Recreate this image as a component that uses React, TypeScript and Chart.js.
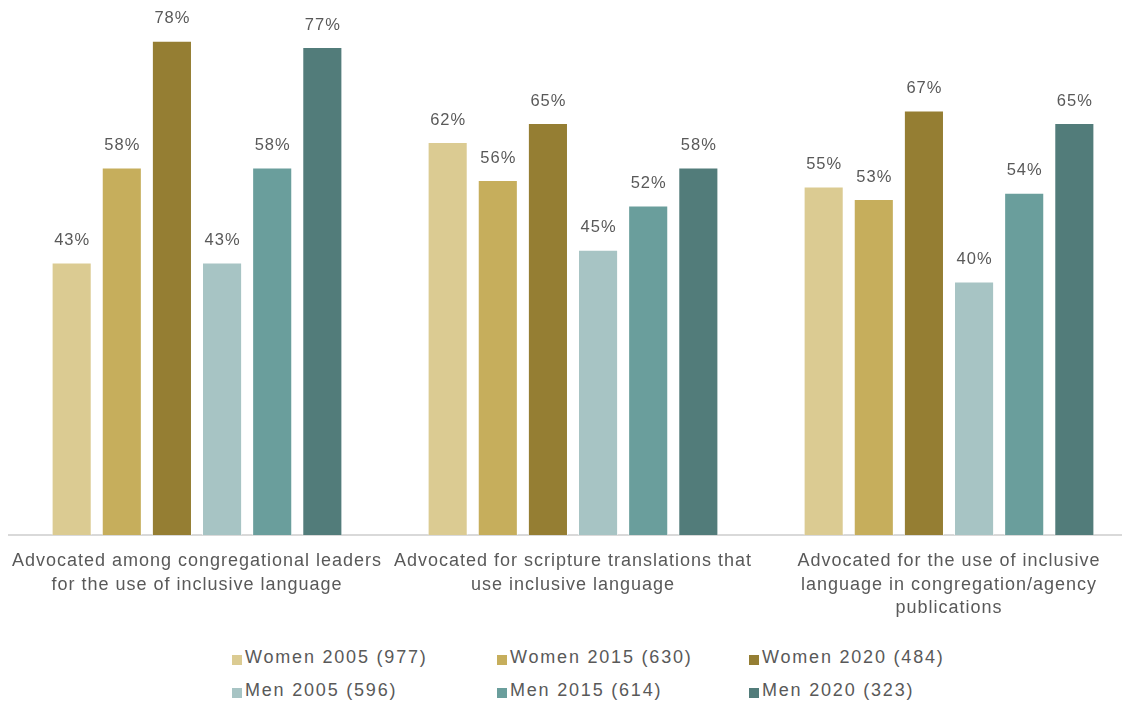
import React, { useEffect, useRef } from "react";
import { Chart, registerables } from "chart.js";

Chart.register(...registerables);

const categories: string[][] = [
  ["Advocated among congregational leaders", "for the use of inclusive language"],
  ["Advocated for scripture translations that", "use inclusive language"],
  ["Advocated for the use of inclusive", "language in congregation/agency", "publications"],
];

const seriesLabels = [
  "Women 2005 (977)",
  "Women 2015 (630)",
  "Women 2020 (484)",
  "Men 2005 (596)",
  "Men 2015 (614)",
  "Men 2020 (323)",
];

const seriesColors = ["#DBCB92", "#C6AE5C", "#957E33", "#A7C4C4", "#6A9E9C", "#527C7A"];

const women2005 = [43, 62, 55];
const women2015 = [58, 56, 53];
const women2020 = [78, 65, 67];
const men2005 = [43, 45, 40];
const men2015 = [58, 52, 54];
const men2020 = [77, 58, 65];

const seriesValues = [women2005, women2015, women2020, men2005, men2015, men2020];

const FONT = '"Liberation Sans", Arial, sans-serif';
const TEXT = "#595959";

const valueLabelPlugin = {
  id: "valueLabels",
  beforeUpdate(chart: any) {
    chart.ctx.letterSpacing = "1px";
  },
  beforeDraw(chart: any) {
    chart.ctx.letterSpacing = "1px";
  },
  afterDatasetsDraw(chart: any) {
    const ctx = chart.ctx;
    ctx.save();
    ctx.letterSpacing = "1px";
    ctx.font = `16.5px ${FONT}`;
    ctx.fillStyle = TEXT;
    ctx.textAlign = "center";
    ctx.textBaseline = "middle";
    chart.data.datasets.forEach((ds: any, i: number) => {
      const meta = chart.getDatasetMeta(i);
      meta.data.forEach((el: any, j: number) => {
        ctx.fillText(`${ds.data[j]}%`, el.x + 0.5, el.y - 22);
      });
    });
    ctx.restore();
  },
};

export default function App() {
  const ref = useRef<HTMLCanvasElement | null>(null);

  useEffect(() => {
    const prevMargin = document.body.style.margin;
    document.body.style.margin = "8px 0 0 8px";
    if (!ref.current) return;
    const chart = new Chart(ref.current, {
      type: "bar",
      data: {
        labels: categories,
        datasets: seriesLabels.map((label, i) => ({
          label,
          data: seriesValues[i],
          backgroundColor: seriesColors[i],
          borderColor: "rgba(255,255,255,0.6)",
          borderWidth: 1,
          categoryPercentage: 0.8,
          barPercentage: 0.8,
        })),
      },
      options: {
        animation: false,
        responsive: false,
        maintainAspectRatio: false,
        layout: { padding: { left: 1, right: 1, top: 20, bottom: 0 } },
        plugins: {
          legend: { display: false },
          tooltip: { enabled: false },
        },
        scales: {
          x: {
            grid: { display: false, drawTicks: true, tickLength: 15 },
            border: { display: true, color: "#D9D9D9", width: 2 },
            ticks: {
              autoSkip: false,
              maxRotation: 0,
              minRotation: 0,
              padding: 0,
              color: TEXT,
              font: { family: FONT, size: 18, lineHeight: 1.28 },
            },
            afterFit: (scale: any) => {
              scale.height = 93;
            },
          },
          y: {
            display: false,
            min: 0,
            max: 80,
          },
        },
      },
      plugins: [valueLabelPlugin],
    });
    return () => {
      chart.destroy();
      document.body.style.margin = prevMargin;
    };
  }, []);

  const legendLeft = [224, 489, 741];
  const legendTop = [638, 671];

  return (
    <div
      style={{
        position: "relative",
        width: 1114,
        height: 696,
        overflow: "hidden",
        fontFamily: FONT,
      }}
    >
      <canvas
        ref={ref}
        width={1130}
        height={620}
        style={{ position: "absolute", left: 0, top: 0, width: 1130, height: 620 }}
      />
      {seriesLabels.map((label, i) => (
        <div
          key={label}
          style={{
            position: "absolute",
            left: legendLeft[i % 3],
            top: legendTop[Math.floor(i / 3)],
            height: 22,
            display: "flex",
            alignItems: "center",
            whiteSpace: "nowrap",
            color: TEXT,
            fontSize: 18,
            letterSpacing: "1.8px",
          }}
        >
          <span
            style={{
              display: "inline-block",
              width: 10,
              height: 10,
              marginTop: 5,
              marginRight: 3,
              background: seriesColors[i],
            }}
          />
          <span>{label}</span>
        </div>
      ))}
    </div>
  );
}
